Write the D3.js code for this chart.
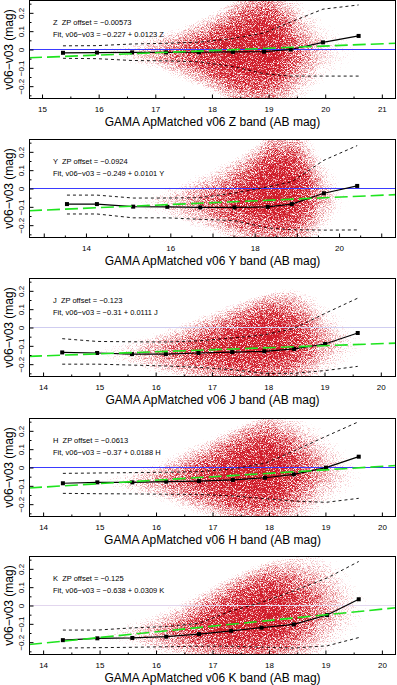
<!DOCTYPE html>
<html>
<head>
<meta charset="utf-8">
<script src="https://cdn.jsdelivr.net/npm/d3@7"></script>
<style>
body { margin: 0; background: #fff; }
svg { display: block; font-family: "Liberation Sans", Arial, Helvetica, sans-serif; }
</style>
</head>
<body>
<script>
// one panel per band, top to bottom
var bands = ["Z", "Y", "J", "H", "K"];
var zpOffset = ["\u22120.00573", "\u22120.0924", "\u22120.123", "\u22120.0613", "\u22120.125"];
var fitIntercept = [-0.227, -0.249, -0.31, -0.37, -0.638];
var fitSlope = [0.0123, 0.0101, 0.0111, 0.0188, 0.0309];
var xDomains = [[14.77, 21.25], [12.65, 21.35], [13.75, 20.27], [13.75, 20.25], [13.75, 20.25]];
var xTicks = [[15, 16, 17, 18, 19, 20, 21], [13, 14, 15, 16, 17, 18, 19, 20, 21],
  [14, 15, 16, 17, 18, 19, 20], [14, 15, 16, 17, 18, 19, 20], [14, 15, 16, 17, 18, 19, 20]];
var xLabels = [[15, 16, 17, 18, 19, 20, 21], [14, 16, 18, 20],
  [14, 15, 16, 17, 18, 19, 20], [14, 15, 16, 17, 18, 19, 20], [14, 15, 16, 17, 18, 19, 20]];
var yTicks = [-0.2, -0.1, 0, 0.1, 0.2];

// binned running median and spread (dashed) for each band
var zMag = [15.37, 15.97, 16.59, 17.19, 17.77, 18.37, 18.92, 19.39, 19.96, 20.59];
var zMed = [-0.018, -0.017, -0.016, -0.016, -0.015, -0.013, -0.012, 0.0, 0.039, 0.074];
var zHi = [0.02, 0.021, 0.03, 0.034, 0.04, 0.06, 0.09, 0.15, 0.22, 0.243];
var zLo = [-0.048, -0.05, -0.06, -0.062, -0.067, -0.093, -0.132, -0.145, -0.145, -0.145];

var yMag = [13.55, 14.26, 15.12, 15.93, 16.71, 17.52, 18.31, 18.88, 19.64, 20.43];
var yMed = [-0.085, -0.085, -0.099, -0.1, -0.103, -0.103, -0.1, -0.085, -0.026, 0.014];
var yHi = [-0.036, -0.036, -0.052, -0.052, -0.05, -0.025, 0.008, 0.037, 0.154, 0.234];
var yLo = [-0.139, -0.139, -0.16, -0.16, -0.168, -0.175, -0.215, -0.225, -0.227, -0.226];

var jMag = [14.34, 14.96, 15.58, 16.18, 16.76, 17.36, 17.93, 18.46, 19.01, 19.59];
var jMed = [-0.136, -0.139, -0.145, -0.145, -0.139, -0.134, -0.13, -0.117, -0.09, -0.03];
var jHi = [-0.061, -0.076, -0.078, -0.079, -0.073, -0.057, -0.04, -0.005, 0.077, 0.16];
var jLo = [-0.2, -0.2, -0.205, -0.21, -0.217, -0.23, -0.25, -0.25, -0.235, -0.212];

var hMag = [14.35, 14.96, 15.58, 16.18, 16.76, 17.36, 17.93, 18.44, 19.01, 19.59];
var hMed = [-0.086, -0.081, -0.081, -0.077, -0.074, -0.068, -0.056, -0.037, -0.001, 0.059];
var hHi = [-0.032, -0.03, -0.028, -0.026, -0.023, -0.008, 0.023, 0.09, 0.17, 0.25];
var hLo = [-0.141, -0.143, -0.144, -0.146, -0.147, -0.155, -0.17, -0.183, -0.19, -0.168];

var kMag = [14.35, 14.96, 15.58, 16.18, 16.76, 17.33, 17.87, 18.44, 19.03, 19.59];
var kMed = [-0.189, -0.179, -0.177, -0.17, -0.156, -0.138, -0.121, -0.103, -0.052, 0.034];
var kHi = [-0.134, -0.134, -0.122, -0.115, -0.097, -0.03, 0.017, 0.08, 0.15, 0.24];
var kLo = [-0.232, -0.23, -0.228, -0.225, -0.222, -0.222, -0.227, -0.232, -0.22, -0.175];

// red point cloud, read as relative density and visible extent per magnitude
var zCloudMag = [15.5, 16.0, 16.5, 17.0, 17.5, 18.0, 18.5, 19.0, 19.5, 20.0, 20.5, 21.0];
var zCloudDens = [0.03, 0.07, 0.14, 0.28, 0.48, 0.72, 0.95, 1.0, 0.4, 0.14, 0.06, 0.02];
var zCloudHi = [0.02, 0.04, 0.06, 0.09, 0.13, 0.19, 0.27, 0.32, 0.28, 0.2, 0.15, 0.1];
var zCloudLo = [-0.05, -0.07, -0.09, -0.12, -0.17, -0.23, -0.3, -0.32, -0.3, -0.22, -0.17, -0.12];

var yCloudMag = [14.5, 15, 15.5, 16, 16.5, 17, 17.5, 18, 18.5, 19, 19.5, 20, 20.5];
var yCloudDens = [0.02, 0.05, 0.1, 0.18, 0.3, 0.42, 0.6, 0.85, 1.0, 0.85, 0.3, 0.08, 0.02];
var yCloudHi = [-0.04, -0.02, 0.0, 0.03, 0.07, 0.11, 0.16, 0.22, 0.3, 0.3, 0.22, 0.12, 0.05];
var yCloudLo = [-0.12, -0.14, -0.16, -0.19, -0.22, -0.25, -0.29, -0.31, -0.32, -0.32, -0.3, -0.22, -0.15];

var jCloudMag = [14.5, 15, 15.5, 16, 16.5, 17, 17.5, 18, 18.5, 19, 19.5, 20];
var jCloudDens = [0.03, 0.08, 0.15, 0.3, 0.45, 0.65, 0.85, 1.0, 0.65, 0.25, 0.08, 0.02];
var jCloudHi = [-0.1, -0.08, -0.05, -0.02, 0.03, 0.08, 0.13, 0.18, 0.2, 0.15, 0.08, 0.02];
var jCloudLo = [-0.18, -0.2, -0.23, -0.26, -0.29, -0.31, -0.32, -0.32, -0.32, -0.3, -0.26, -0.2];

var hCloudMag = [14.5, 15, 15.5, 16, 16.5, 17, 17.5, 18, 18.5, 19, 19.5, 20];
var hCloudDens = [0.03, 0.07, 0.15, 0.28, 0.45, 0.7, 0.95, 1.0, 0.55, 0.22, 0.07, 0.02];
var hCloudHi = [-0.04, -0.02, 0.0, 0.04, 0.1, 0.16, 0.22, 0.27, 0.26, 0.22, 0.14, 0.06];
var hCloudLo = [-0.12, -0.14, -0.16, -0.19, -0.23, -0.27, -0.3, -0.31, -0.3, -0.26, -0.22, -0.16];

var kCloudMag = [14.5, 15, 15.5, 16, 16.5, 17, 17.5, 18, 18.5, 19, 19.5, 20];
var kCloudDens = [0.03, 0.07, 0.14, 0.27, 0.45, 0.7, 0.95, 1.0, 0.6, 0.28, 0.09, 0.03];
var kCloudHi = [-0.12, -0.1, -0.07, -0.03, 0.03, 0.1, 0.17, 0.23, 0.27, 0.3, 0.24, 0.15];
var kCloudLo = [-0.2, -0.22, -0.25, -0.28, -0.3, -0.32, -0.32, -0.32, -0.32, -0.3, -0.26, -0.2];

var panels = [
  {mag: zMag, med: zMed, hi: zHi, lo: zLo, cm: zCloudMag, cd: zCloudDens, ch: zCloudHi, cl: zCloudLo},
  {mag: yMag, med: yMed, hi: yHi, lo: yLo, cm: yCloudMag, cd: yCloudDens, ch: yCloudHi, cl: yCloudLo},
  {mag: jMag, med: jMed, hi: jHi, lo: jLo, cm: jCloudMag, cd: jCloudDens, ch: jCloudHi, cl: jCloudLo},
  {mag: hMag, med: hMed, hi: hHi, lo: hLo, cm: hCloudMag, cd: hCloudDens, ch: hCloudHi, cl: hCloudLo},
  {mag: kMag, med: kMed, hi: kHi, lo: kLo, cm: kCloudMag, cd: kCloudDens, ch: kCloudHi, cl: kCloudLo}
];

var zeroColors = ["#3a3aff", "#3a3aff", "#cfcdf0", "#3a3aff", "#e2d6ee"];
var panelTop = [0, 139, 278, 418, 556];
var left = 29, right = 396, ph = 99;

var svg = d3.select("body").append("svg")
  .attr("width", 397)
  .attr("height", 685);
var defs = svg.append("defs");

// blurred density, dithered by fine noise so it reads as many small dots
var f = defs.append("filter").attr("id", "speckle")
  .attr("x", "-10%").attr("y", "-10%").attr("width", "120%").attr("height", "120%");
f.append("feGaussianBlur").attr("in", "SourceAlpha").attr("stdDeviation", 4).attr("result", "b");
f.append("feTurbulence").attr("type", "fractalNoise").attr("baseFrequency", 1.4)
  .attr("numOctaves", 1).attr("seed", 7).attr("result", "t");
f.append("feColorMatrix").attr("in", "t").attr("type", "matrix")
  .attr("values", "0 0 0 0 0  0 0 0 0 0  0 0 0 0 0  2.6 0 0 0 -0.8").attr("result", "n");
f.append("feComposite").attr("in", "b").attr("in2", "n").attr("operator", "arithmetic")
  .attr("k1", 2).attr("k2", 0.75).attr("k3", 0.3).attr("k4", -0.5).attr("result", "m");
f.append("feFlood").attr("flood-color", "#d01f2a").attr("result", "c");
f.append("feComposite").attr("in", "c").attr("in2", "m").attr("operator", "in");

panels.forEach(function (p, i) {
  var g = svg.append("g").attr("transform", "translate(0," + panelTop[i] + ")");
  var x = d3.scaleLinear().domain(xDomains[i]).range([left, right]);
  var y = d3.scaleLinear().domain([-0.27, 0.27]).range([ph, 0]);

  defs.append("clipPath").attr("id", "clip" + i)
    .append("rect").attr("x", left).attr("y", 0).attr("width", right - left).attr("height", ph);

  var grad = defs.append("linearGradient").attr("id", "dens" + i)
    .attr("gradientUnits", "userSpaceOnUse")
    .attr("x1", left).attr("x2", right).attr("y1", 0).attr("y2", 0);
  p.cm.forEach(function (m, k) {
    grad.append("stop")
      .attr("offset", (x(m) - left) / (right - left))
      .attr("stop-color", "#d01f2a")
      .attr("stop-opacity", p.cd[k]);
  });

  var cloud = g.append("g").attr("clip-path", "url(#clip" + i + ")")
    .append("g").attr("filter", "url(#speckle)");
  var idx = d3.range(p.cm.length);
  [1, 0.72, 0.48, 0.26].forEach(function (s) {
    var area = d3.area()
      .x(function (k) { return x(p.cm[k]); })
      .y0(function (k) { var c = (p.ch[k] + p.cl[k]) / 2; return y(c - s * (c - p.cl[k])); })
      .y1(function (k) { var c = (p.ch[k] + p.cl[k]) / 2; return y(c + s * (p.ch[k] - c)); })
      .curve(d3.curveMonotoneX);
    cloud.append("path").datum(idx)
      .attr("d", area)
      .attr("fill", "url(#dens" + i + ")")
      .attr("fill-opacity", 0.4);
  });

  var lines = g.append("g").attr("clip-path", "url(#clip" + i + ")");

  lines.append("line")
    .attr("x1", left).attr("x2", right)
    .attr("y1", y(0)).attr("y2", y(0))
    .attr("stroke", zeroColors[i]).attr("stroke-width", 1);

  var line = function (vals) {
    return d3.line()
      .x(function (k) { return x(p.mag[k]); })
      .y(function (k) { return y(vals[k]); });
  };
  var bins = d3.range(p.mag.length);

  [p.hi, p.lo].forEach(function (vals) {
    lines.append("path").datum(bins)
      .attr("d", line(vals))
      .attr("fill", "none").attr("stroke", "#000")
      .attr("stroke-width", 0.9).attr("stroke-dasharray", "3,3");
  });

  lines.append("path").datum(bins)
    .attr("d", line(p.med))
    .attr("fill", "none").attr("stroke", "#000").attr("stroke-width", 1.2);
  lines.selectAll("rect.pt").data(bins).enter().append("rect")
    .attr("class", "pt")
    .attr("x", function (k) { return x(p.mag[k]) - 2; })
    .attr("y", function (k) { return y(p.med[k]) - 2; })
    .attr("width", 4).attr("height", 4)
    .attr("fill", "#000");

  lines.append("path")
    .datum(xDomains[i])
    .attr("d", d3.line()
      .x(function (m) { return x(m); })
      .y(function (m) { return y(fitIntercept[i] + fitSlope[i] * m); }))
    .attr("fill", "none").attr("stroke", "#1ee41e")
    .attr("stroke-width", 1.6).attr("stroke-dasharray", "13,5");

  // frame
  g.append("rect")
    .attr("x", left + 0.5).attr("y", 0.5)
    .attr("width", right - left - 1).attr("height", ph - 1)
    .attr("fill", "none").attr("stroke", "#000").attr("stroke-width", 1);

  // x axis, ticks pointing inward
  var xa = g.append("g").attr("transform", "translate(0," + (ph - 0.5) + ")")
    .call(d3.axisBottom(x).tickValues(xTicks[i]).tickSize(-4).tickPadding(8)
      .tickFormat(function (d) { return xLabels[i].indexOf(d) >= 0 ? d : ""; }));
  var minorX = d3.range(Math.ceil(xDomains[i][0] * 2), Math.floor(xDomains[i][1] * 2) + 1)
    .map(function (v) { return v / 2; })
    .filter(function (v) { return v % 1 !== 0; });
  var xm = g.append("g").attr("transform", "translate(0," + (ph - 0.5) + ")")
    .call(d3.axisBottom(x).tickValues(minorX).tickSize(-2).tickFormat(""));

  // y axis
  var ya = g.append("g").attr("transform", "translate(" + (left + 0.5) + ",0)")
    .call(d3.axisLeft(y).tickValues(yTicks).tickSize(-4)
      .tickFormat(function (d) { return d === 0 ? "0" : d3.format(".1f")(d).replace("-", "\u2212"); }));
  var ym = g.append("g").attr("transform", "translate(" + (left + 0.5) + ",0)")
    .call(d3.axisLeft(y).tickValues([-0.25, -0.15, -0.05, 0.05, 0.15, 0.25]).tickSize(-2).tickFormat(""));

  [xa, xm, ya, ym].forEach(function (a) {
    a.select(".domain").remove();
    a.selectAll("line").attr("stroke", "#000");
    a.selectAll("text").attr("font-size", 8).attr("font-family", null).attr("fill", "#000");
  });
  ya.selectAll("text")
    .attr("x", null).attr("dy", null)
    .attr("text-anchor", "middle")
    .attr("transform", "translate(-6,0) rotate(-90)");

  g.append("text")
    .attr("transform", "translate(13," + (ph / 2) + ") rotate(-90)")
    .attr("text-anchor", "middle")
    .attr("font-size", 12)
    .text("v06\u2212v03 (mag)");

  g.append("text")
    .attr("x", (left + right) / 2).attr("y", ph + 27)
    .attr("text-anchor", "middle")
    .attr("font-size", 12)
    .text("GAMA ApMatched v06 " + bands[i] + " band (AB mag)");

  g.append("text")
    .attr("x", 53).attr("y", 25)
    .attr("font-size", 7.5)
    .text(bands[i] + "  ZP offset = " + zpOffset[i])
    .style("white-space", "pre");
  g.append("text")
    .attr("x", 53).attr("y", 37)
    .attr("font-size", 7.5)
    .text("Fit, v06\u2212v03 = " + String(fitIntercept[i]).replace("-", "\u2212") + " + " + fitSlope[i] + " " + bands[i]);
});
</script>
</body>
</html>
